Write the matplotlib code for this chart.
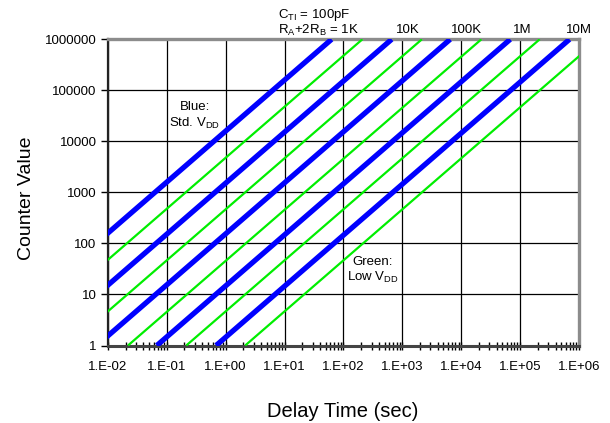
import matplotlib
matplotlib.use("Agg")
import matplotlib.pyplot as plt
from matplotlib.ticker import FixedLocator, FixedFormatter, NullFormatter

plt.rcParams['font.family'] = ['Liberation Sans', 'DejaVu Sans']
plt.rcParams['mathtext.fontset'] = 'custom'
plt.rcParams['mathtext.rm'] = 'Liberation Sans'
plt.rcParams['mathtext.it'] = 'Liberation Sans'

# Resistor values (R_A + 2R_B) for each pair of lines
resistors = ["1K", "10K", "100K", "1M", "10M"]

# Blue (Std. VDD): delay time (s) where counter = 1 and where counter = 1,000,000
blue_t_at_1 = [6.3e-5, 6.6e-4, 6.5e-3, 0.068, 0.69]
blue_t_at_1M = [63, 660, 6500, 68000, 690000]
blue_count_ends = [1, 1000000]

# Green (Low VDD)
green_t_at_1 = [2.1e-4, 2.15e-3, 0.022, 0.215, 2.15]
green_t_at_1M = [210, 2150, 22000, 215000, 2150000]
green_count_ends = [1, 1000000]

x_ticks = [1e-2, 1e-1, 1e0, 1e1, 1e2, 1e3, 1e4, 1e5, 1e6]
x_tick_labels = ["1.E-02", "1.E-01", "1.E+00", "1.E+01", "1.E+02",
                 "1.E+03", "1.E+04", "1.E+05", "1.E+06"]
y_ticks = [1, 10, 100, 1000, 10000, 100000, 1000000]
y_tick_labels = ["1", "10", "100", "1000", "10000", "100000", "1000000"]

W, H = 610, 423
fig = plt.figure(figsize=(W / 100, H / 100), dpi=100)
L, R, T, B = 107.8, 579.0, 39.3, 345.5
ax = fig.add_axes([L / W, 1 - B / H, (R - L) / W, (B - T) / H])
ax.set_xscale('log')
ax.set_yscale('log')
ax.set_xlim(1e-2, 1e6)
ax.set_ylim(1, 1e6)

for t1, tM in zip(green_t_at_1, green_t_at_1M):
    ax.plot([t1, tM], green_count_ends, color='#00ee00', lw=1.6,
            solid_capstyle='butt', zorder=3)
for t1, tM in zip(blue_t_at_1, blue_t_at_1M):
    ax.plot([t1, tM], blue_count_ends, color='#0000ff', lw=3.8,
            solid_capstyle='butt', zorder=4)

ax.grid(True, which='major', color='black', lw=0.9, zorder=1)
ax.set_axisbelow(True)

ax.xaxis.set_major_locator(FixedLocator(x_ticks))
ax.xaxis.set_major_formatter(FixedFormatter(x_tick_labels))
minor = [m * 10.0 ** e for e in range(-2, 6) for m in range(2, 10)]
ax.xaxis.set_minor_locator(FixedLocator(minor))
ax.xaxis.set_minor_formatter(NullFormatter())
ax.yaxis.set_major_locator(FixedLocator(y_ticks))
ax.yaxis.set_major_formatter(FixedFormatter(y_tick_labels))
ax.yaxis.set_minor_locator(FixedLocator([]))

ax.tick_params(axis='x', which='both', direction='inout', length=6, width=1,
               color='black', labelsize=9.5, pad=8)
ax.tick_params(axis='y', which='major', direction='out', length=5, width=1,
               color='black', labelsize=9.5, pad=3)

ax.spines['left'].set_color('#222222')
ax.spines['left'].set_linewidth(1.6)
ax.spines['bottom'].set_color('#444444')
ax.spines['bottom'].set_linewidth(2.2)
ax.spines['top'].set_color('#8c8c8c')
ax.spines['top'].set_linewidth(2.4)
ax.spines['right'].set_color('#8c8c8c')
ax.spines['right'].set_linewidth(2.4)

def ftext(x, y, s, **kw):
    fig.text(x / W, 1 - y / H, s, **kw)

ftext(27, 198, "Counter Value", rotation=90, ha='center', va='center', fontsize=14)
ftext(343, 411, "Delay Time (sec)", ha='center', va='center', fontsize=14.5)

ftext(278, 15, r"C$_{\mathrm{TI}}$ = 100pF", ha='left', va='center', fontsize=9.5)
ftext(278, 30, r"R$_{\mathrm{A}}$+2R$_{\mathrm{B}}$ = " + resistors[0], ha='left', va='center', fontsize=9.5)
top_label_x = [None, 408, 467, 522, 579]
for lab, xx in zip(resistors[1:], top_label_x[1:]):
    ftext(xx, 30, lab, ha='center', va='center', fontsize=9.5)

ftext(195, 107, "Blue:", ha='center', va='center', fontsize=9.5)
ftext(195, 123, r"Std. V$_{\mathrm{DD}}$", ha='center', va='center', fontsize=9.5)
ftext(373, 262, "Green:", ha='center', va='center', fontsize=9.5)
ftext(373, 277, r"Low V$_{\mathrm{DD}}$", ha='center', va='center', fontsize=9.5)

fig.savefig("out.png", dpi=100)
